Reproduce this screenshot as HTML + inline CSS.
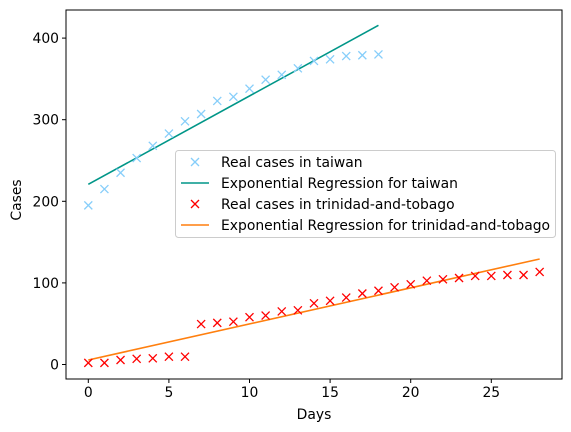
<!DOCTYPE html>
<html><head><meta charset="utf-8"><style>
html,body{margin:0;padding:0;background:#fff}
svg{display:block;font-family:"DejaVu Sans","Liberation Sans",sans-serif}
</style></head><body>
<svg id="chart" width="571" height="432"></svg>
<script>
const days = [0,1,2,3,4,5,6,7,8,9,10,11,12,13,14,15,16,17,18,19,20,21,22,23,24,25,26,27,28];
const taiwanCases = [195,215,235,253,268,283,298,307,323,328,338,349,355,363,372,374,378,379,380];
const trinidadCases = [2,2,5.5,7,7.6,9.6,9.6,49.6,51,52.5,58,60,65,66.4,75,78,82,87,90.4,94.6,98.3,102.7,104.4,106,108.5,108.5,109.7,109.7,113.4];
const taiwanFitEnds = [220.8, 415.7];
const trinidadFitEnds = [5.5, 129.3];
const xTicks = [0,5,10,15,20,25];
const yTicks = [0,100,200,300,400];

const NS = "http://www.w3.org/2000/svg";
const svg = document.getElementById('chart');
const L=66,R=562,T=10,B=379;
const FS=13.9;
const xs = d => 88.3 + d*16.12;
const ys = v => 364.5 - v*0.816;
function el(tag, attrs, parent){const e=document.createElementNS(NS,tag);for(const k in attrs)e.setAttribute(k,attrs[k]);(parent||svg).appendChild(e);return e;}

const axes = el('rect',{x:L,y:T,width:R-L,height:B-T,fill:'none',stroke:'#000','stroke-width':1});



xTicks.forEach(t=>{
  const g=el('g',{});
  
  
  el('line',{x1:xs(t),x2:xs(t),y1:B,y2:B+4,stroke:'#000'},g);
  const tx=el('text',{x:xs(t),y:B+18,'text-anchor':'middle','font-size':FS},g);tx.textContent=t;
});
yTicks.forEach(t=>{
  const g=el('g',{});
  
  
  el('line',{x1:L-4,x2:L,y1:ys(t),y2:ys(t),stroke:'#000'},g);
  const tx=el('text',{x:L-7,y:ys(t)+5,'text-anchor':'end','font-size':FS},g);tx.textContent=t;
});
const xl=el('text',{x:314,y:419,'text-anchor':'middle','font-size':FS});xl.textContent='Days';


const yl=el('text',{x:21,y:200,'text-anchor':'middle','font-size':FS,transform:'rotate(-90 21 200)'});yl.textContent='Cases';



function cross(x,y,color,parent){
  const g=el('g',{stroke:color,'stroke-width':1.3},parent);
  el('line',{x1:x-4,y1:y-4,x2:x+4,y2:y+4},g);
  el('line',{x1:x-4,y1:y+4,x2:x+4,y2:y-4},g);
  return g;
}
function fitLine(ends,n,color,name){
  const ln=el('line',{x1:xs(0),y1:ys(ends[0]),x2:xs(n-1),y2:ys(ends[1]),stroke:color,'stroke-width':1.6});
  
  
}
fitLine(taiwanFitEnds,taiwanCases.length,'#009688','taiwan-regression-line');
fitLine(trinidadFitEnds,trinidadCases.length,'#ff7f0e','trinidad-regression-line');
taiwanCases.forEach((v,i)=>{
  const m=cross(xs(days[i]),ys(v),'#87cefa');
  
  
});
trinidadCases.forEach((v,i)=>{
  const m=cross(xs(days[i]),ys(v),'#ff0000');
  
  
});

const lg=el('g',{});


el('rect',{x:175.5,y:150.5,width:380,height:87,rx:3,fill:'#fff','fill-opacity':0.8,stroke:'#ccc'},lg);
const entries=[['x','#87cefa','Real cases in taiwan'],['l','#009688','Exponential Regression for taiwan'],['x','#ff0000','Real cases in trinidad-and-tobago'],['l','#ff7f0e','Exponential Regression for trinidad-and-tobago']];
entries.forEach((e,i)=>{
  const y=162+i*21;
  const g=el('g',{},lg);
  
  
  if(e[0]==='x') cross(195,y,e[1],g); else el('line',{x1:181,x2:209,y1:y,y2:y,stroke:e[1],'stroke-width':1.6},g);
  const t=el('text',{x:221,y:y+5,'font-size':FS},g);t.textContent=e[2];
});
</script>
</body></html>
